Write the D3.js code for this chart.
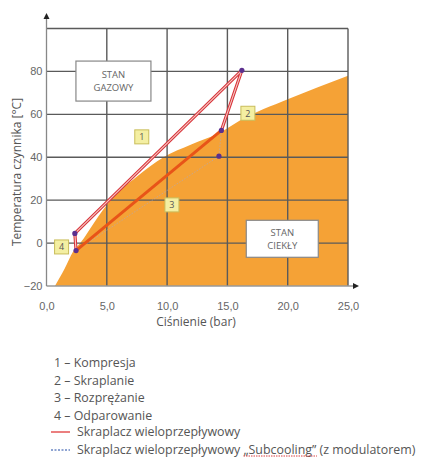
<!DOCTYPE html>
<html>
<head>
<meta charset="utf-8">
<script src="https://cdn.jsdelivr.net/npm/d3@7"></script>
<style>
  body { margin: 0; background: #fff; }
  svg { font-family: "Open Sans", "DejaVu Sans", sans-serif; }
</style>
</head>
<body>
<svg id="chart" width="427" height="460"></svg>
<script>
// saturation curve (pressure bar, temperature C) - border of the orange liquid region
var curveP = [0.7, 1.5, 2.2, 2.8, 4.0, 5.3, 7.5, 9.7, 12.0, 14.4, 16.0, 20.0, 25.0];
var curveT = [-20, -12, -4, 0, 10, 20, 31, 40, 46, 51.5, 57, 67, 78];

// cycle points
var pointNames = ["A", "B", "C", "D", "E"];
var pointP = [2.35, 2.45, 16.2, 14.5, 14.3];
var pointT = [4.5, -3.5, 80.5, 52.5, 40.5];

var xTicks = [0, 5, 10, 15, 20, 25];
var yTicks = [-20, 0, 20, 40, 60, 80];
var xGrid = [5, 10, 15, 20, 25];
var yGrid = [0, 20, 40, 60, 80, 100];

// stage markers
var stageLabels = ["1", "2", "3", "4"];
var stageP = [7.9, 16.7, 10.4, 1.25];
var stageT = [49.5, 60.5, 17.8, -1.8];

var legendStages = ["1 \u2013 Kompresja", "2 \u2013 Skraplanie", "3 \u2013 Rozpr\u0119\u017canie", "4 \u2013 Odparowanie"];

var svg = d3.select("#chart");
var x = d3.scaleLinear().domain([0, 25]).range([46.5, 348]);
var y = d3.scaleLinear().domain([-20, 100]).range([286, 28.5]);

var pt = {};
pointNames.forEach(function (n, i) { pt[n] = [pointP[i], pointT[i]]; });

// orange region
var area = d3.area()
    .x(function (d) { return x(d[0]); })
    .y0(y(-20))
    .y1(function (d) { return y(d[1]); })
    .curve(d3.curveMonotoneX);
svg.append("path")
    .datum(curveP.map(function (p, i) { return [p, curveT[i]]; }))
    .attr("d", area)
    .attr("fill", "#F5A236");

// grid
var grid = svg.append("g").attr("class", "grid");
xGrid.forEach(function (v) {
    grid.append("line")
        .attr("x1", x(v)).attr("x2", x(v))
        .attr("y1", y(-20)).attr("y2", y(100))
        .style("stroke", "#5a5a5a").style("stroke-width", "1.4px");
});
yGrid.forEach(function (v) {
    grid.append("line")
        .attr("x1", x(0)).attr("x2", x(25))
        .attr("y1", y(v)).attr("y2", y(v))
        .style("stroke", "#5a5a5a").style("stroke-width", "1.4px");
});

// axes
var fmt = function (d) { return d3.format(".1f")(d).replace(".", ","); };
var gx = svg.append("g").attr("transform", "translate(0," + y(-20) + ")")
    .call(d3.axisBottom(x).tickValues(xTicks).tickFormat(fmt).tickSize(0).tickPadding(16));
var gy = svg.append("g").attr("transform", "translate(" + x(0) + ",0)")
    .call(d3.axisLeft(y).tickValues(yTicks).tickSize(0).tickPadding(4));
[gx, gy].forEach(function (g) {
    g.select(".domain").remove();
    g.selectAll("text").attr("fill", "#666").attr("font-size", "11px");
});

svg.append("line").attr("x1", x(0)).attr("x2", 354).attr("y1", y(-20)).attr("y2", y(-20))
    .style("stroke", "#999").style("stroke-width", "1.3px");
svg.append("line").attr("x1", x(0)).attr("x2", x(0)).attr("y1", y(-20)).attr("y2", 18)
    .style("stroke", "#888").style("stroke-width", "1.3px");
svg.append("path").attr("d", "M" + (x(0) - 3) + ",19L" + x(0) + ",13L" + (x(0) + 3) + ",19Z").attr("fill", "#222");
svg.append("path").attr("d", "M353," + (y(-20) - 3) + "L359," + y(-20) + "L353," + (y(-20) + 3) + "Z").attr("fill", "#222");

// axis titles
svg.append("text").attr("x", 196).attr("y", 326)
    .attr("text-anchor", "middle").attr("font-size", "12px").attr("fill", "#555")
    .text("Ci\u015bnienie (bar)");
svg.append("text").attr("transform", "translate(21,172) rotate(-90)")
    .attr("text-anchor", "middle").attr("font-size", "12px").attr("fill", "#555")
    .text("Temperatura czynnika [\u00b0C]");

// state boxes
function stateBox(cx, cy, w, h, lines) {
    svg.append("rect").attr("x", cx - w / 2).attr("y", cy - h / 2).attr("width", w).attr("height", h)
        .attr("fill", "#fff").attr("stroke", "#888").attr("stroke-width", 1.2);
    svg.append("text").attr("x", cx).attr("y", cy - 3).attr("text-anchor", "middle")
        .attr("font-size", "9.5px").attr("fill", "#666").text(lines[0]);
    svg.append("text").attr("x", cx).attr("y", cy + 10).attr("text-anchor", "middle")
        .attr("font-size", "9.5px").attr("fill", "#666").text(lines[1]);
}
stateBox(x(5.55), y(75.5), 75, 40, ["STAN", "GAZOWY"]);
stateBox(x(19.55), y(2), 72, 37, ["STAN", "CIEK\u0141Y"]);

// cycle lines
var line = d3.line().x(function (d) { return x(d[0]); }).y(function (d) { return y(d[1]); });
// subcooling variant (blue dotted, faint)
svg.append("path").datum([pt.D, pt.E, pt.B]).attr("d", line)
    .attr("fill", "none").attr("stroke", "#a8a8c8").attr("stroke-opacity", 0.6)
    .attr("stroke-width", 1).attr("stroke-dasharray", "1.5,1.5");
// multi-pass condenser thin red
svg.append("path").datum([pt.B, pt.A, pt.C, pt.D]).attr("d", line)
    .attr("fill", "none").attr("stroke", "#d8333a").attr("stroke-width", 3.2).attr("stroke-linejoin", "round");
svg.append("path").datum([pt.B, pt.A, pt.C, pt.D]).attr("d", line)
    .attr("fill", "none").attr("stroke", "#f6c9c4").attr("stroke-width", 1.1).attr("stroke-linejoin", "round");
// expansion thick line
svg.append("path").datum([pt.D, pt.B]).attr("d", line)
    .attr("fill", "none").attr("stroke", "#E85418").attr("stroke-width", 3);

svg.selectAll(".pt").data(pointNames).enter().append("circle")
    .attr("cx", function (d) { return x(pt[d][0]); })
    .attr("cy", function (d) { return y(pt[d][1]); })
    .attr("r", 2.6).attr("fill", "#5b2f8e");

// stage markers
stageLabels.forEach(function (s, i) {
    var cx = x(stageP[i]), cy = y(stageT[i]);
    svg.append("rect").attr("x", cx - 7).attr("y", cy - 7).attr("width", 14).attr("height", 14)
        .attr("fill", "#f4efa2").attr("stroke", "#c9bd5a").attr("stroke-width", 1);
    svg.append("text").attr("x", cx).attr("y", cy + 3.5).attr("text-anchor", "middle")
        .attr("font-size", "9px").attr("fill", "#555").text(s);
});

// legend
var ly = [367, 385, 402, 420, 436, 454];
var lfs = "12.4px";
legendStages.forEach(function (s, i) {
    svg.append("text").attr("x", 54).attr("y", ly[i]).attr("font-size", lfs).attr("fill", "#555").text(s);
});
svg.append("line").attr("x1", 51).attr("x2", 70).attr("y1", ly[4] - 4).attr("y2", ly[4] - 4)
    .attr("stroke", "#e03a3a").attr("stroke-width", 1.3);
svg.append("text").attr("x", 77).attr("y", ly[4]).attr("font-size", lfs).attr("fill", "#555")
    .text("Skraplacz wieloprzep\u0142ywowy");
svg.append("line").attr("x1", 51).attr("x2", 70).attr("y1", ly[5] - 4).attr("y2", ly[5] - 4)
    .attr("stroke", "#6a86c4").attr("stroke-width", 1.3).attr("stroke-dasharray", "2,1.5");
var last = svg.append("text").attr("x", 77).attr("y", ly[5]).attr("font-size", lfs).attr("fill", "#555");
last.append("tspan").text("Skraplacz wieloprzep\u0142ywowy ");
var sub = last.append("tspan").text("\u201eSubcooling\u201d");
last.append("tspan").text(" (z modulatorem)");
var bb = sub.node().getBBox();
svg.append("line").attr("x1", bb.x).attr("x2", bb.x + bb.width).attr("y1", ly[5] + 2).attr("y2", ly[5] + 2)
    .attr("stroke", "#d84040").attr("stroke-width", 1).attr("stroke-dasharray", "1.5,1");
</script>
</body>
</html>
